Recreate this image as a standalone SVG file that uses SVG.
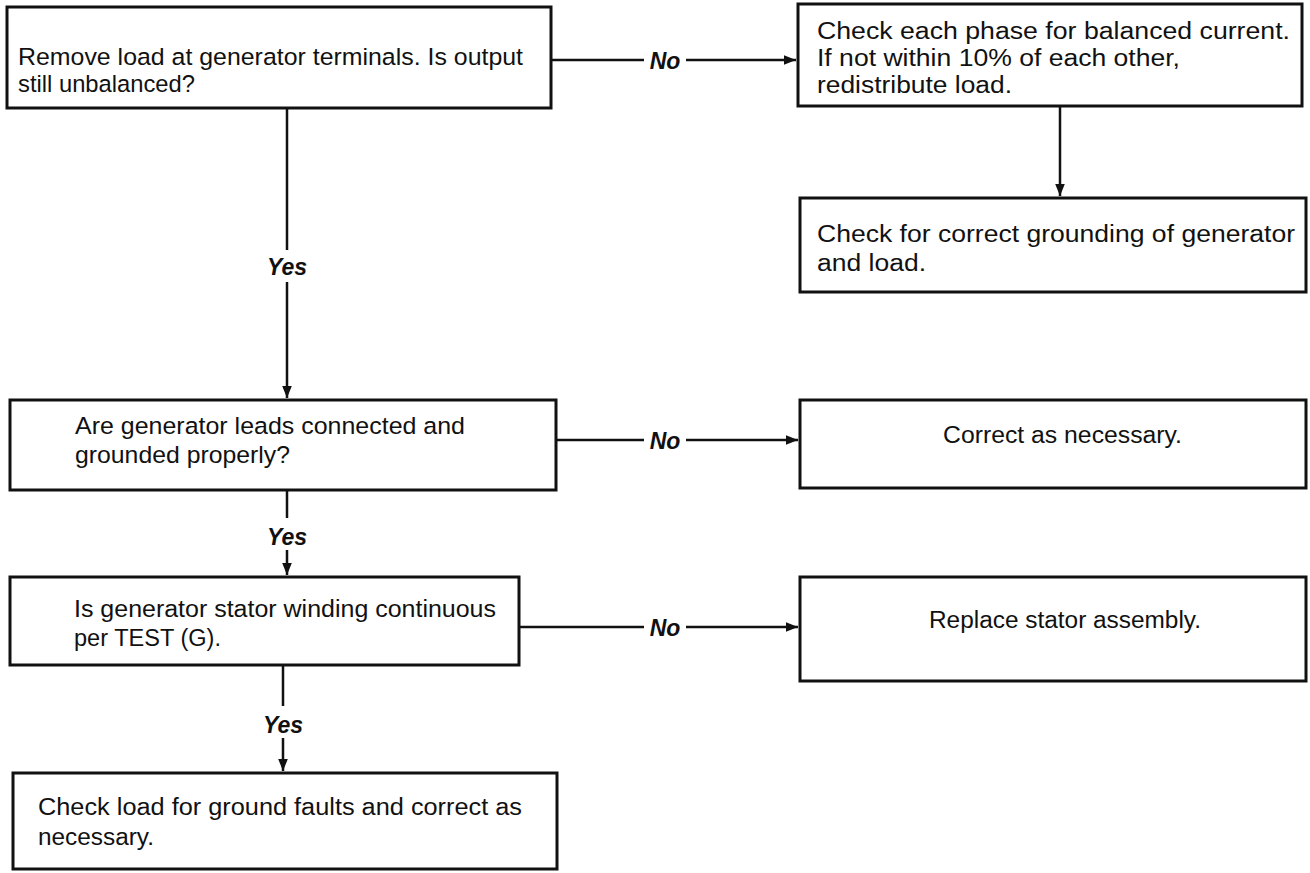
<svg xmlns="http://www.w3.org/2000/svg" width="1310" height="873" viewBox="0 0 1310 873">
<defs>
<style>
.box{fill:#fff;stroke:#111;stroke-width:3}
.t{font-family:"Liberation Sans",Arial,sans-serif;font-size:23px;fill:#111}
.c{font-family:"Liberation Sans",Arial,sans-serif;font-size:24.5px;fill:#111}
.lbl{font-family:"Liberation Sans",Arial,sans-serif;font-size:23px;font-weight:bold;font-style:italic;fill:#111}
.ln{stroke:#111;stroke-width:2.5;fill:none}
</style>
<marker id="ah" viewBox="0 0 10 10" refX="10" refY="5" markerWidth="5" markerHeight="5" orient="auto" markerUnits="strokeWidth">
<path d="M0,1 L10,5 L0,9 z" fill="#111"/>
</marker>
</defs>
<rect width="1310" height="873" fill="#fff"/>
<g id="connectors">
<path class="ln" d="M551,60 H644 M686,60 H796" marker-end="url(#ah)"/>
<path class="ln" d="M1060,106 V196" marker-end="url(#ah)"/>
<path class="ln" d="M287,108 V250 M287,282 V398" marker-end="url(#ah)"/>
<path class="ln" d="M556,440 H644 M686,440 H798" marker-end="url(#ah)"/>
<path class="ln" d="M287,490 V518 M287,550 V575" marker-end="url(#ah)"/>
<path class="ln" d="M519,627 H644 M686,627 H798" marker-end="url(#ah)"/>
<path class="ln" d="M283,665 V706 M283,738 V771" marker-end="url(#ah)"/>
<text class="lbl" x="665" y="69" text-anchor="middle">No</text>
<text class="lbl" x="287" y="275" text-anchor="middle">Yes</text>
<text class="lbl" x="665" y="449" text-anchor="middle">No</text>
<text class="lbl" x="287" y="545" text-anchor="middle">Yes</text>
<text class="lbl" x="665" y="636" text-anchor="middle">No</text>
<text class="lbl" x="283" y="733" text-anchor="middle">Yes</text>
</g>
<g id="n1">
<rect class="box" x="7" y="7" width="544" height="101"/>
<text class="c" x="18" y="65" textLength="505" lengthAdjust="spacingAndGlyphs">Remove load at generator terminals. Is output</text>
<text class="c" x="18" y="92" textLength="177" lengthAdjust="spacingAndGlyphs">still unbalanced?</text>
</g>
<g id="n2">
<rect class="box" x="798" y="4" width="504" height="102"/>
<text class="t" x="817" y="39" textLength="473" lengthAdjust="spacingAndGlyphs">Check each phase for balanced current.</text>
<text class="t" x="817" y="66" textLength="363" lengthAdjust="spacingAndGlyphs">If not within 10% of each other,</text>
<text class="t" x="817" y="93" textLength="195" lengthAdjust="spacingAndGlyphs">redistribute load.</text>
</g>
<g id="n3">
<rect class="box" x="800" y="198" width="506" height="94"/>
<text class="t" x="817" y="242" textLength="478" lengthAdjust="spacingAndGlyphs">Check for correct grounding of generator</text>
<text class="t" x="817" y="271" textLength="109" lengthAdjust="spacingAndGlyphs">and load.</text>
</g>
<g id="n4">
<rect class="box" x="10" y="400" width="546" height="90"/>
<text class="c" x="75" y="434" textLength="390" lengthAdjust="spacingAndGlyphs">Are generator leads connected and</text>
<text class="c" x="75" y="463" textLength="215" lengthAdjust="spacingAndGlyphs">grounded properly?</text>
</g>
<g id="n5">
<rect class="box" x="800" y="400" width="506" height="88"/>
<text class="t" x="943" y="443" textLength="239" lengthAdjust="spacingAndGlyphs">Correct as necessary.</text>
</g>
<g id="n6">
<rect class="box" x="10" y="577" width="509" height="88"/>
<text class="t" x="74" y="617" textLength="422" lengthAdjust="spacingAndGlyphs">Is generator stator winding continuous</text>
<text class="t" x="74" y="646" textLength="147" lengthAdjust="spacingAndGlyphs">per TEST (G).</text>
</g>
<g id="n7">
<rect class="box" x="800" y="577" width="506" height="104"/>
<text class="t" x="929" y="628" textLength="272" lengthAdjust="spacingAndGlyphs">Replace stator assembly.</text>
</g>
<g id="n8">
<rect class="box" x="13" y="773" width="544" height="96"/>
<text class="t" x="38" y="815" textLength="484" lengthAdjust="spacingAndGlyphs">Check load for ground faults and correct as</text>
<text class="t" x="38" y="845" textLength="116" lengthAdjust="spacingAndGlyphs">necessary.</text>
</g>
</svg>
